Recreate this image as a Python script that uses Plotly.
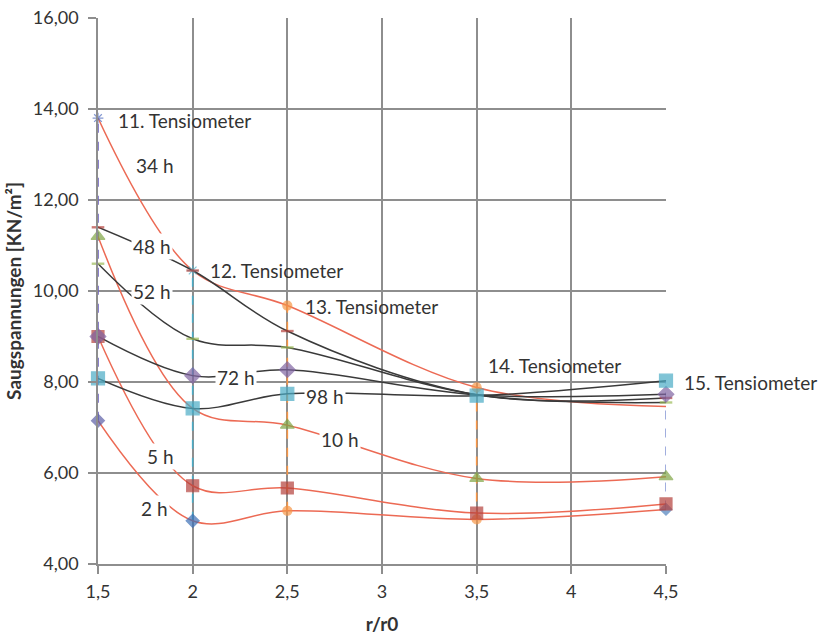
import plotly.graph_objects as go

# ---------------- data ----------------
r_ratio = [1.5, 2.0, 2.5, 3.5, 4.5]          # r/r0 positions of tensiometers 11..15
tensiometer_names = ["11. Tensiometer", "12. Tensiometer", "13. Tensiometer",
                     "14. Tensiometer", "15. Tensiometer"]

s_2h  = [7.15, 4.95, 5.17, 4.98, 5.20]
s_5h  = [9.00, 5.72, 5.67, 5.12, 5.32]
s_10h = [11.20, 7.42, 7.05, 5.88, 5.92]
s_34h = [13.80, 10.45, 9.68, 7.88, 7.46]
s_48h = [11.40, 10.45, 9.12, 7.72, 7.65]
s_52h = [10.60, 8.95, 8.76, 7.72, 7.55]
s_72h = [9.00, 8.14, 8.27, 7.72, 7.73]
s_98h = [8.08, 7.42, 7.74, 7.70, 8.03]

time_labels = ["2 h", "5 h", "10 h", "34 h", "48 h", "52 h", "72 h", "98 h"]
series = [s_2h, s_5h, s_10h, s_34h, s_48h, s_52h, s_72h, s_98h]

X_MIN, X_MAX = 1.5, 4.5

# ---------------- styles ----------------
RED = "#ec6a54"
BLACK = "#3a3a3a"
line_colors = [RED, RED, RED, RED, BLACK, BLACK, BLACK, BLACK]

marker_styles = {
    "2 h":  dict(symbol=["diamond", "diamond", "circle", "circle", "diamond"],
                 color=["#5b5ea6", "#3b6fb6", "#f79646", "#f79646", "#4f81bd"],
                 size=[10, 10, 9, 9, 9]),
    "5 h":  dict(symbol="square", color="#b5413c", size=[12, 12, 12, 12, 12]),
    "10 h": dict(symbol="triangle-up", color="#7fa544", size=[12, 0, 12, 12, 12]),
    "34 h": dict(symbol=["asterisk-open", "asterisk-open", "circle", "circle", "circle"],
                 color=["#4f6bbd", "#4bacc6", "#f79646", "#f79646", "#f79646"],
                 size=[9, 9, 9, 9, 0]),
    "48 h": dict(symbol="line-ew-open", color="#b5413c", size=[9, 9, 9, 0, 9]),
    "52 h": dict(symbol="line-ew-open", color="#9bbb59", size=[9, 9, 9, 0, 9]),
    "72 h": dict(symbol="diamond", color="#8064a2", size=[12, 12, 12, 0, 12]),
    "98 h": dict(symbol="square", color="#4bacc6", size=[13, 13, 13, 13, 13]),
}

tens_colors = ["#6f62c0", "#4bacc6", "#f79646", "#f79646", "#8a9ad6"]

FONT = "Lato"
TXT = "#333333"

fig = go.Figure()

# vertical tensiometer series (drawn from the data at each position)
for i, xv in enumerate(r_ratio):
    vals = sorted(s[i] for s in series)
    fig.add_trace(go.Scatter(
        x=[xv] * len(vals), y=vals, mode="lines",
        line=dict(color=tens_colors[i], width=1.6, dash="dash"),
        cliponaxis=False, showlegend=False, hoverinfo="skip"))

# smoothed time curves
for name, vals, col in zip(time_labels, series, line_colors):
    fig.add_trace(go.Scatter(
        x=r_ratio, y=vals, mode="lines", name=name,
        line=dict(color=col, width=1.5, shape="spline", smoothing=1.0),
        cliponaxis=False, showlegend=False))

# markers on top
for name, vals in zip(time_labels, series):
    st = marker_styles[name]
    open_sym = isinstance(st["symbol"], str) and st["symbol"].endswith("open")
    fig.add_trace(go.Scatter(
        x=r_ratio, y=vals, mode="markers", name=name,
        marker=dict(symbol=st["symbol"], color=st["color"], size=st["size"],
                    line=dict(color=st["color"], width=2.4 if open_sym else 1.2)),
        cliponaxis=False, showlegend=False))


def to_paper(xv):
    return (xv - X_MIN) / (X_MAX - X_MIN)


# time labels (white boxes over the curves)
time_label_pos = {
    "34 h": (1.80, 12.75), "48 h": (1.785, 10.97), "52 h": (1.785, 10.0),
    "72 h": (2.23, 8.09), "98 h": (2.70, 7.69), "10 h": (2.78, 6.73),
    "5 h": (1.83, 6.37), "2 h": (1.80, 5.21),
}
for name, (ax_, ay_) in time_label_pos.items():
    fig.add_annotation(xref="paper", x=to_paper(ax_), y=ay_, text=name, showarrow=False,
                       xanchor="center", yanchor="middle",
                       font=dict(family=FONT, size=19, color=TXT),
                       bgcolor="white", borderpad=1)

# tensiometer labels
tens_label_pos = [(1.600, 13.74), (2.085, 10.44), (2.590, 9.65), (3.555, 8.37), (4.590, 8.0)]
for name, (ax_, ay_) in zip(tensiometer_names, tens_label_pos):
    fig.add_annotation(xref="paper", x=to_paper(ax_), y=ay_, text=name, showarrow=False,
                       xanchor="left", yanchor="middle",
                       font=dict(family=FONT, size=19, color=TXT),
                       borderpad=0)

GRID = "#8e8e8e"
fig.update_layout(
    width=818, height=635,
    margin=dict(l=98, r=152, t=18, b=71),
    paper_bgcolor="white", plot_bgcolor="white",
    separators=",.",
    font=dict(family=FONT, color=TXT),
    xaxis=dict(range=[X_MIN, X_MAX], tickvals=[1.5, 2, 2.5, 3, 3.5, 4, 4.5],
               automargin=False,
               showgrid=True, gridcolor=GRID, gridwidth=1.5,
               zeroline=False, showline=True, linecolor=GRID, linewidth=1.5,
               ticks="outside", ticklen=8, tickcolor=GRID, tickwidth=1.5,
               ticklabelstandoff=3,
               tickfont=dict(family=FONT, size=18, color=TXT),
               title=dict(text="<b>r/r0</b>", font=dict(family=FONT, size=19, color=TXT),
                          standoff=16)),
    yaxis=dict(range=[4, 16], tickvals=[4, 6, 8, 10, 12, 14, 16], tickformat=".2f",
               automargin=False,
               showgrid=True, gridcolor=GRID, gridwidth=1.5,
               zeroline=False, showline=True, linecolor=GRID, linewidth=1.5,
               ticks="outside", ticklen=8, tickcolor=GRID, tickwidth=1.5,
               ticklabelstandoff=6,
               tickfont=dict(family=FONT, size=18, color=TXT),
               title=dict(text="<b>Saugspannungen [KN/m²]</b>",
                          font=dict(family=FONT, size=19, color=TXT), standoff=6)),
)

fig.write_html("out.html")
